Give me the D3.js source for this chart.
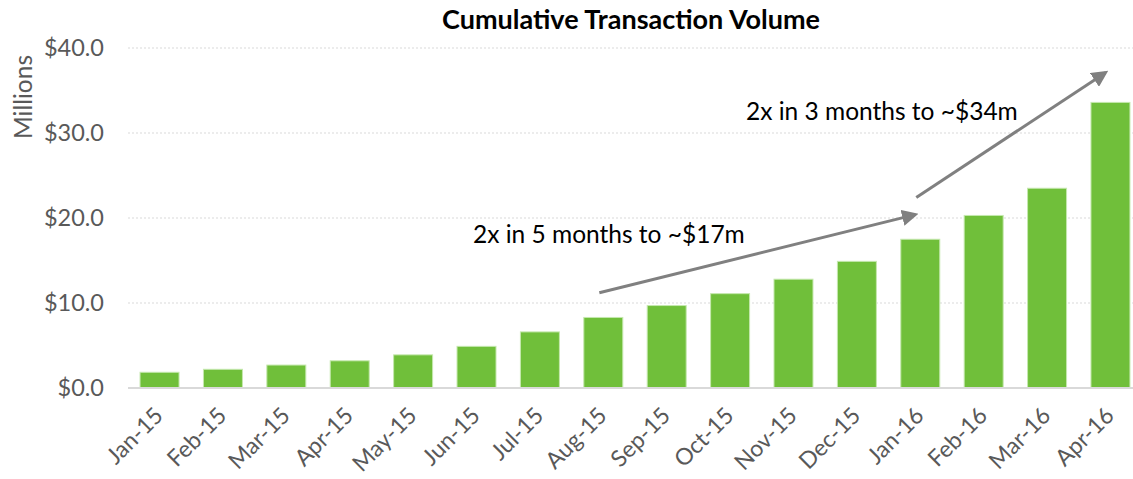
<!DOCTYPE html>
<html>
<head>
<meta charset="utf-8">
<script src="https://cdn.jsdelivr.net/npm/d3@7"></script>
<style>
  body { margin: 0; background: #fff; }
  svg { display: block; font-family: Lato, "Open Sans", sans-serif; }
</style>
</head>
<body>
<svg id="chart"></svg>
<script>
// data
const months = ["Jan-15", "Feb-15", "Mar-15", "Apr-15", "May-15", "Jun-15", "Jul-15", "Aug-15",
                "Sep-15", "Oct-15", "Nov-15", "Dec-15", "Jan-16", "Feb-16", "Mar-16", "Apr-16"];
const volume = [1.85, 2.2, 2.7, 3.2, 3.9, 4.9, 6.6, 8.3, 9.7, 11.1, 12.8, 14.9, 17.5, 20.3, 23.5, 33.6];
const yTicks = [0, 10, 20, 30, 40];

// annotations: arrows go from [month, value] to [month, value]
const notes = [
  { text: "2x in 5 months to ~$17m", from: ["Aug-15", 11.2], to: ["Jan-16", 20.4], tx: 473, ty: 243 },
  { text: "2x in 3 months to ~$34m", from: ["Jan-16", 22.4], to: ["Apr-16", 37.1], tx: 746, ty: 120 }
];

const width = 1133, height = 479;
const svg = d3.select("#chart").attr("width", width).attr("height", height);

const x = d3.scaleBand().domain(months).range([128, 1142]).paddingInner(0.385).paddingOuter(0.19);
const y = d3.scaleLinear().domain([0, 40]).range([388, 48]);

// title
svg.append("text")
  .attr("x", 631).attr("y", 29)
  .attr("text-anchor", "middle")
  .attr("font-size", 27).attr("font-weight", "bold").attr("fill", "#000")
  .text("Cumulative Transaction Volume");

// gridlines
svg.append("g")
  .selectAll("line")
  .data(yTicks.filter(d => d > 0))
  .join("line")
  .attr("x1", 128).attr("x2", 1133)
  .attr("y1", d => y(d)).attr("y2", d => y(d))
  .attr("stroke", "#d9d9d9").attr("stroke-width", 1)
  .attr("stroke-dasharray", "2,2");

// y axis labels
const yAxis = svg.append("g")
  .attr("transform", "translate(104,0)")
  .call(d3.axisLeft(y).tickValues(yTicks).tickSize(0).tickPadding(0).tickFormat(d => "$" + d.toFixed(1)));
yAxis.select(".domain").remove();
yAxis.selectAll("text")
  .attr("font-size", 23.5).attr("fill", "#595959")
  .attr("font-family", "Lato, 'Open Sans', sans-serif");

svg.append("text")
  .attr("transform", "translate(32,97) rotate(-90)")
  .attr("text-anchor", "middle")
  .attr("font-size", 24.5).attr("fill", "#595959")
  .text("Millions");

// bars
svg.append("g")
  .selectAll("rect")
  .data(volume)
  .join("rect")
  .attr("x", (d, i) => x(months[i]))
  .attr("y", d => y(d))
  .attr("width", x.bandwidth())
  .attr("height", d => y(0) - y(d))
  .attr("fill", "#70bf3a")
  .attr("stroke", "#c5e8ae").attr("stroke-width", 1);

// x axis
const xAxis = svg.append("g")
  .attr("transform", `translate(0,${y(0)})`)
  .call(d3.axisBottom(x).tickSize(0).tickPadding(0));
xAxis.select(".domain").attr("d", "M128,0H1133").attr("stroke", "#d9d9d9").attr("stroke-width", 2);
xAxis.selectAll("text")
  .attr("font-size", 23).attr("fill", "#595959")
  .attr("font-family", "Lato, 'Open Sans', sans-serif")
  .attr("text-anchor", "end")
  .attr("dy", null)
  .attr("transform", "translate(5,29) rotate(-45)");

// arrows and notes
const defs = svg.append("defs");
defs.append("marker")
  .attr("id", "head")
  .attr("viewBox", "0 0 10 10")
  .attr("refX", 8).attr("refY", 5)
  .attr("markerWidth", 5.5).attr("markerHeight", 5.5)
  .attr("markerUnits", "strokeWidth")
  .attr("orient", "auto")
  .append("path").attr("d", "M0,0L10,5L0,10Z").attr("fill", "#808080");

const cx = m => x(m) + x.bandwidth() / 2;

notes.forEach(n => {
  svg.append("line")
    .attr("x1", cx(n.from[0]) - 4).attr("y1", y(n.from[1]))
    .attr("x2", cx(n.to[0]) - 5).attr("y2", y(n.to[1]))
    .attr("stroke", "#808080").attr("stroke-width", 3)
    .attr("marker-end", "url(#head)");
  svg.append("text")
    .attr("x", n.tx).attr("y", n.ty)
    .attr("font-size", 24.5).attr("fill", "#000")
    .text(n.text);
});
</script>
</body>
</html>
